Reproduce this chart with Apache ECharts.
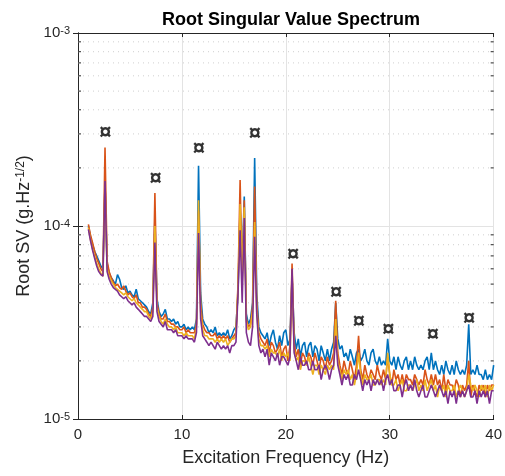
<!DOCTYPE html>
<html>
<head>
<meta charset="UTF-8">
<title>Root Singular Value Spectrum</title>
<script type="text/javascript" src="https://cdn.jsdelivr.net/npm/echarts@6/dist/echarts.min.js"></script>
<style>
  html, body { margin: 0; padding: 0; background: #fff; }
</style>
</head>
<body>
<div id="main" style="width: 505px;height:476px;"></div>
<script type="text/javascript">
// frequency bins (Hz): 1.0 .. 40.0, every 0.2 Hz
var freqStart = 1, freqStep = 0.2, freqCount = 196;

// root singular values, in units of 1e-6 g.Hz^-1/2 (5 bins per Hz)
var sv1 = [
  100,88,80,74,70, 66,62,60,165,64, 57,54,52,50,56, 53,48,47,49,45,
  46,44,43,47,42, 41,40,39,38,36, 35,40,110,42,36, 34,35,37,33,33,
  32,33,31,32,30, 30,31,29,30,29, 30,29,33,205,45, 33,31,30,28,29,
  28,30,27,28,27, 28,27,29,26,27, 29,30,45,125,62, 142,35,31,33,40,
  225,45,30,28,27, 26,28,24,27,29, 25,23,27,24,28, 29,24,26,55,28,
  23,26,21,24,25, 21,24,25,21,24, 23,20,24,22,20, 23,20,23,25,40,
  26,23,24,21,22, 20,23,21,19,22, 23,20,21,23,20, 19,22,23,20,19,
  21,19,20,19,26, 20,19,21,18,21, 19,18,20,21,18, 20,18,21,19,18,
  19,18,20,21,18, 22,18,20,18,17, 19,17,20,18,17, 19,17,20,18,17,
  18,17,19,31,17, 18,17,19,17,17, 16,18,16,17,16, 19
];
var sv2 = [
  102,90,82,74,68, 64,60,58,255,66, 58,54,51,49,50, 48,47,49,46,44,
  45,43,42,44,40, 40,38,38,37,35, 34,38,148,40,35, 33,33,35,32,32,
  31,31,30,30,29, 29,30,28,29,28, 28,28,31,120,40, 31,29,28,28,27,
  27,28,26,27,26, 27,26,27,25,26, 27,28,50,173,51, 136,33,30,31,38,
  160,40,28,26,25, 24,26,22,25,24, 22,23,25,21,23, 24,20,24,64,25,
  21,23,19,22,21, 19,22,21,19,22, 20,18,21,20,18, 21,19,20,22,41,
  22,19,17,20,18, 17,20,18,16,19, 27,18,16,19,17, 16,18,17,16,19,
  17,16,18,16,21, 17,15,18,16,17, 15,17,15,17,16, 16,15,17,16,15,
  16,15,18,16,15, 17,15,17,15,16, 14,17,14,16,15, 15,14,16,15,13,
  15,14,15,20,13, 15,14,13,15,14, 15,13,15,14,15, 15
];
var sv3 = [
  98,85,76,70,64, 60,57,55,160,60, 55,52,50,48,47, 46,45,44,45,43,
  42,41,42,40,39, 38,37,36,36,34, 33,36,100,38,34, 32,31,33,31,30,
  30,29,30,28,28, 28,27,28,27,27, 27,26,30,136,36, 29,27,27,26,26,
  26,25,26,25,26, 25,26,24,25,26, 26,27,48,130,55, 125,32,29,30,36,
  105,36,26,24,24, 23,24,21,23,22, 22,21,23,20,22, 21,22,20,55,23,
  20,21,18,20,20, 19,21,19,17,19, 19,17,19,18,17, 19,18,19,18,33,
  20,18,16,18,17, 18,16,17,15,17, 22,17,15,17,16, 16,17,15,15,16,
  16,15,16,15,22, 17,15,15,16,14, 15,16,14,14,15, 15,14,15,16,14,
  15,14,16,14,15, 16,14,15,13,15, 14,15,13,15,14, 14,15,13,14,15,
  14,13,14,17,15, 14,15,14,13,15, 14,15,13,15,14, 15
];
var sv4 = [
  96,84,75,68,62, 58,56,55,171,58, 53,50,48,47,46, 44,43,42,43,41,
  40,39,40,38,37, 36,35,34,34,33, 32,34,82,36,32, 31,30,32,29,29,
  29,28,29,27,27, 27,26,27,26,26, 26,25,28,92,33, 27,26,25,24,25,
  24,23,25,24,23, 24,23,24,22,24, 24,25,45,95,40, 110,28,25,24,30,
  88,35,24,22,23, 21,23,19,22,21, 20,22,19,21,21, 20,19,21,60,22,
  20,18,21,19,19, 20,18,18,20,18, 18,19,16,18,19, 18,16,18,19,27,
  19,17,15,17,16, 17,15,15,17,16, 18,16,14,16,15, 16,14,16,15,16,
  15,16,14,16,17, 15,16,14,14,15, 15,13,15,16,14, 15,14,16,14,13,
  14,15,13,13,14, 15,14,13,14,15, 14,13,14,12,14, 13,14,12,14,13,
  14,13,14,15,13, 13,14,12,14,13, 14,13,14,12,14, 14
];

// picked peaks
var peakFreq = [2.64, 7.46, 11.63, 17.02, 20.71, 24.83, 27.04, 29.87, 34.14, 37.64];
var peakSV = [3.03e-4, 1.75e-4, 2.51e-4, 3.01e-4, 7.1e-5, 4.51e-5, 3.2e-5, 2.9e-5, 2.71e-5, 3.3e-5];

// minor ticks of the log axis
var minorTicks = [2e-5, 3e-5, 4e-5, 5e-5, 6e-5, 7e-5, 8e-5, 9e-5,
                  2e-4, 3e-4, 4e-4, 5e-4, 6e-4, 7e-4, 8e-4, 9e-4];

var colors = ['#0072BD', '#D95319', '#EDB120', '#7E2F8E'];
var axisColor = '#262626';

function toPairs(arr) {
	var out = [];
	for (var i = 0; i < freqCount; i++) {
		out.push([+(freqStart + i * freqStep).toFixed(1), arr[i] * 1e-6]);
	}
	return out;
}

var myChart = echarts.init(document.getElementById('main'));

var lineSeries = [sv1, sv2, sv3, sv4].map(function (arr, k) {
	return {
		type: 'line',
		data: toPairs(arr),
		showSymbol: false,
		symbol: 'none',
		silent: true,
		lineStyle: { color: colors[k], width: 1.6 },
		z: 3 + k
	};
});

var peakData = peakFreq.map(function (f, i) { return [f, peakSV[i]]; });

// dotted minor grid + short inside ticks on both y axes
var minorSeries = {
	type: 'custom',
	silent: true,
	z: 1,
	data: minorTicks.map(function (v) { return [0, v]; }),
	encode: { x: 0, y: 1 },
	renderItem: function (params, api) {
		var v = api.value(1);
		var p0 = api.coord([0, v]);
		var p1 = api.coord([40, v]);
		return {
			type: 'group',
			children: [{
				type: 'line',
				shape: { x1: p0[0], y1: p0[1], x2: p1[0], y2: p1[1] },
				style: { stroke: '#cfcfcf', lineWidth: 1, lineDash: [1, 4] }
			}, {
				type: 'line',
				shape: { x1: p0[0], y1: p0[1], x2: p0[0] + 3, y2: p0[1] },
				style: { stroke: axisColor, lineWidth: 1 }
			}, {
				type: 'line',
				shape: { x1: p1[0] - 3, y1: p1[1], x2: p1[0], y2: p1[1] },
				style: { stroke: axisColor, lineWidth: 1 }
			}]
		};
	}
};

option = {
	animation: false,
	title: {
		text: 'Root Singular Value Spectrum',
		left: 286,
		textAlign: 'center',
		top: 6,
		textStyle: { fontFamily: 'Liberation Sans', fontSize: 18, fontWeight: 'bold', color: '#000' }
	},
	grid: { left: 78, right: 11, top: 33, bottom: 57 },
	xAxis: [{
		type: 'value',
		min: 0, max: 40, interval: 10,
		name: 'Excitation Frequency (Hz)',
		nameLocation: 'middle',
		nameGap: 30,
		nameTextStyle: { fontFamily: 'Liberation Sans', fontSize: 18, color: axisColor },
		axisLine: { lineStyle: { color: axisColor, width: 1 } },
		axisTick: { inside: true, length: 4, lineStyle: { color: axisColor } },
		axisLabel: { fontFamily: 'Liberation Sans', fontSize: 15, color: axisColor, margin: 8 },
		splitLine: { show: true, lineStyle: { color: '#e3e3e3', width: 1 } }
	}, {
		type: 'value',
		position: 'top',
		min: 0, max: 40, interval: 10,
		axisLine: { lineStyle: { color: axisColor, width: 1 } },
		axisTick: { inside: true, length: 4, lineStyle: { color: axisColor } },
		axisLabel: { show: false },
		splitLine: { show: false }
	}],
	yAxis: [{
		type: 'log',
		logBase: 10,
		min: 1e-5, max: 1e-3,
		name: '{a|Root SV (g.Hz}{s|-1/2}{a|)}',
		nameLocation: 'middle',
		nameGap: 43,
		nameTextStyle: {
			rich: {
				a: { fontFamily: 'Liberation Sans', fontSize: 18, color: axisColor },
				s: { fontFamily: 'Liberation Sans', fontSize: 12, color: axisColor, verticalAlign: 'top' }
			}
		},
		axisLine: { lineStyle: { color: axisColor, width: 1 } },
		axisTick: { inside: true, length: 5, lineStyle: { color: axisColor } },
		axisLabel: {
			margin: 8,
			formatter: function (v) {
				return '{b|10}{s|' + Math.round(Math.log10(v)) + '}';
			},
			rich: {
				b: { fontFamily: 'Liberation Sans', fontSize: 15, color: axisColor },
				s: { fontFamily: 'Liberation Sans', fontSize: 11, color: axisColor, verticalAlign: 'top' }
			}
		},
		splitLine: { show: true, lineStyle: { color: '#e3e3e3', width: 1 } }
	}, {
		type: 'log',
		logBase: 10,
		position: 'right',
		min: 1e-5, max: 1e-3,
		axisLine: { lineStyle: { color: axisColor, width: 1 } },
		axisTick: { inside: true, length: 5, lineStyle: { color: axisColor } },
		axisLabel: { show: false },
		splitLine: { show: false }
	}],
	series: [minorSeries].concat(lineSeries, [{
		type: 'scatter',
		data: peakData,
		symbolSize: 1,
		itemStyle: { color: 'rgba(0,0,0,0)' },
		silent: true,
		z: 10,
		label: {
			show: true,
			position: 'inside',
			formatter: '\u00a4',
			fontFamily: 'Liberation Sans',
			fontSize: 22,
			fontWeight: 'bold',
			color: '#000'
		}
	}])
};
myChart.setOption(option);
</script>
</body>
</html>
